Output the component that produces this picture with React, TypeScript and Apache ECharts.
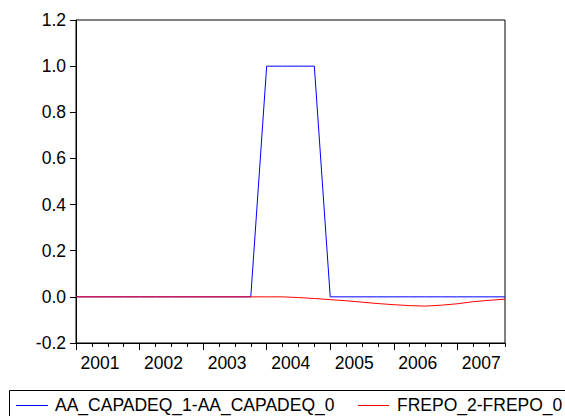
import React, { useEffect, useRef } from "react";
import * as echarts from "echarts";

const quarters = [
  "2001Q1", "2001Q2", "2001Q3", "2001Q4",
  "2002Q1", "2002Q2", "2002Q3", "2002Q4",
  "2003Q1", "2003Q2", "2003Q3", "2003Q4",
  "2004Q1", "2004Q2", "2004Q3", "2004Q4",
  "2005Q1", "2005Q2", "2005Q3", "2005Q4",
  "2006Q1", "2006Q2", "2006Q3", "2006Q4",
  "2007Q1", "2007Q2", "2007Q3", "2007Q4",
];

const aaCapadeq = [
  0, 0, 0, 0, 0, 0, 0, 0, 0, 0, 0, 0,
  1, 1, 1, 1,
  0, 0, 0, 0, 0, 0, 0, 0, 0, 0, 0, 0,
];

const frepo = [
  0, 0, 0, 0, 0, 0, 0, 0, 0, 0, 0, 0, 0, 0,
  -0.003, -0.007, -0.012, -0.017, -0.023, -0.029, -0.034, -0.038,
  -0.040, -0.036, -0.030, -0.021, -0.015, -0.010,
];

const seriesNames = ["AA_CAPADEQ_1-AA_CAPADEQ_0", "FREPO_2-FREPO_0"];
const seriesColors = ["#0000FF", "#FF0000"];
const yTicks = [-0.2, 0.0, 0.2, 0.4, 0.6, 0.8, 1.0, 1.2];

const FONT = "Liberation Sans, Arial, sans-serif";
const FS = 17.5;

export default function App() {
  const ref = useRef<HTMLDivElement>(null);
  useEffect(() => {
    if (!ref.current) return;
    const chart = echarts.init(ref.current, undefined, { renderer: "svg" });
    const legendY = 405.5;
    chart.setOption({
      animation: false,
      backgroundColor: "#fff",
      textStyle: { fontFamily: FONT },
      grid: {
        left: 76,
        top: 20,
        right: 60,
        bottom: 73,
        show: true,
        borderColor: "#000",
        borderWidth: 1,
      },
      graphic: [
        {
          type: "rect",
          shape: { x: 9.5, y: 390.5, width: 600, height: 40 },
          style: { fill: "none", stroke: "#000", lineWidth: 1 },
        },
        {
          type: "line",
          shape: { x1: 16, y1: legendY, x2: 48, y2: legendY },
          style: { stroke: seriesColors[0], lineWidth: 1 },
        },
        {
          type: "text",
          x: 55,
          y: 405,
          style: {
            text: seriesNames[0],
            font: `${FS}px ${FONT}`,
            fill: "#000",
            verticalAlign: "middle",
            align: "left",
          },
        },
        {
          type: "line",
          shape: { x1: 358, y1: legendY, x2: 389, y2: legendY },
          style: { stroke: seriesColors[1], lineWidth: 1 },
        },
        {
          type: "text",
          x: 397,
          y: 405,
          style: {
            text: seriesNames[1],
            font: `${FS}px ${FONT}`,
            fill: "#000",
            verticalAlign: "middle",
            align: "left",
          },
        },
      ],
      xAxis: [
        {
          type: "category",
          data: quarters,
          boundaryGap: false,
          position: "bottom",
          axisLine: { show: true, onZero: false, lineStyle: { color: "#000", width: 1 } },
          axisTick: { show: true, interval: 0, length: 4, lineStyle: { color: "#000" } },
          axisLabel: { show: false },
          splitLine: { show: false },
        },
        {
          type: "category",
          data: quarters,
          boundaryGap: false,
          position: "bottom",
          axisLine: { show: true, onZero: false, lineStyle: { color: "#000", width: 1 } },
          axisTick: {
            show: true,
            interval: (i: number) => i % 4 === 0,
            length: 7,
            lineStyle: { color: "#000" },
          },
          axisLabel: {
            show: true,
            interval: (i: number) => i % 4 === 0,
            formatter: (v: string) => v.slice(0, 4),
            fontFamily: FONT,
            fontSize: FS,
            color: "#000",
            margin: 11,
            padding: [0, 0, 0, 48],
          },
          splitLine: { show: false },
        },
      ],
      yAxis: {
        type: "value",
        min: yTicks[0],
        max: yTicks[yTicks.length - 1],
        interval: 0.2,
        axisLine: { show: true, lineStyle: { color: "#000", width: 1 } },
        axisTick: { show: true, length: 6, lineStyle: { color: "#000" } },
        axisLabel: {
          fontFamily: FONT,
          fontSize: FS,
          color: "#000",
          margin: 10,
          formatter: (v: number) => v.toFixed(1),
        },
        splitLine: { show: false },
      },
      series: [
        {
          name: seriesNames[0],
          type: "line",
          data: aaCapadeq,
          xAxisIndex: 0,
          symbol: "none",
          lineStyle: { color: seriesColors[0], width: 1 },
          itemStyle: { color: seriesColors[0] },
        },
        {
          name: seriesNames[1],
          type: "line",
          data: frepo,
          xAxisIndex: 0,
          symbol: "none",
          lineStyle: { color: seriesColors[1], width: 1 },
          itemStyle: { color: seriesColors[1] },
        },
      ],
    });
    return () => chart.dispose();
  }, []);
  return (
    <div
      ref={ref}
      style={{ position: "absolute", left: 0, top: 0, width: 565, height: 416 }}
    />
  );
}
